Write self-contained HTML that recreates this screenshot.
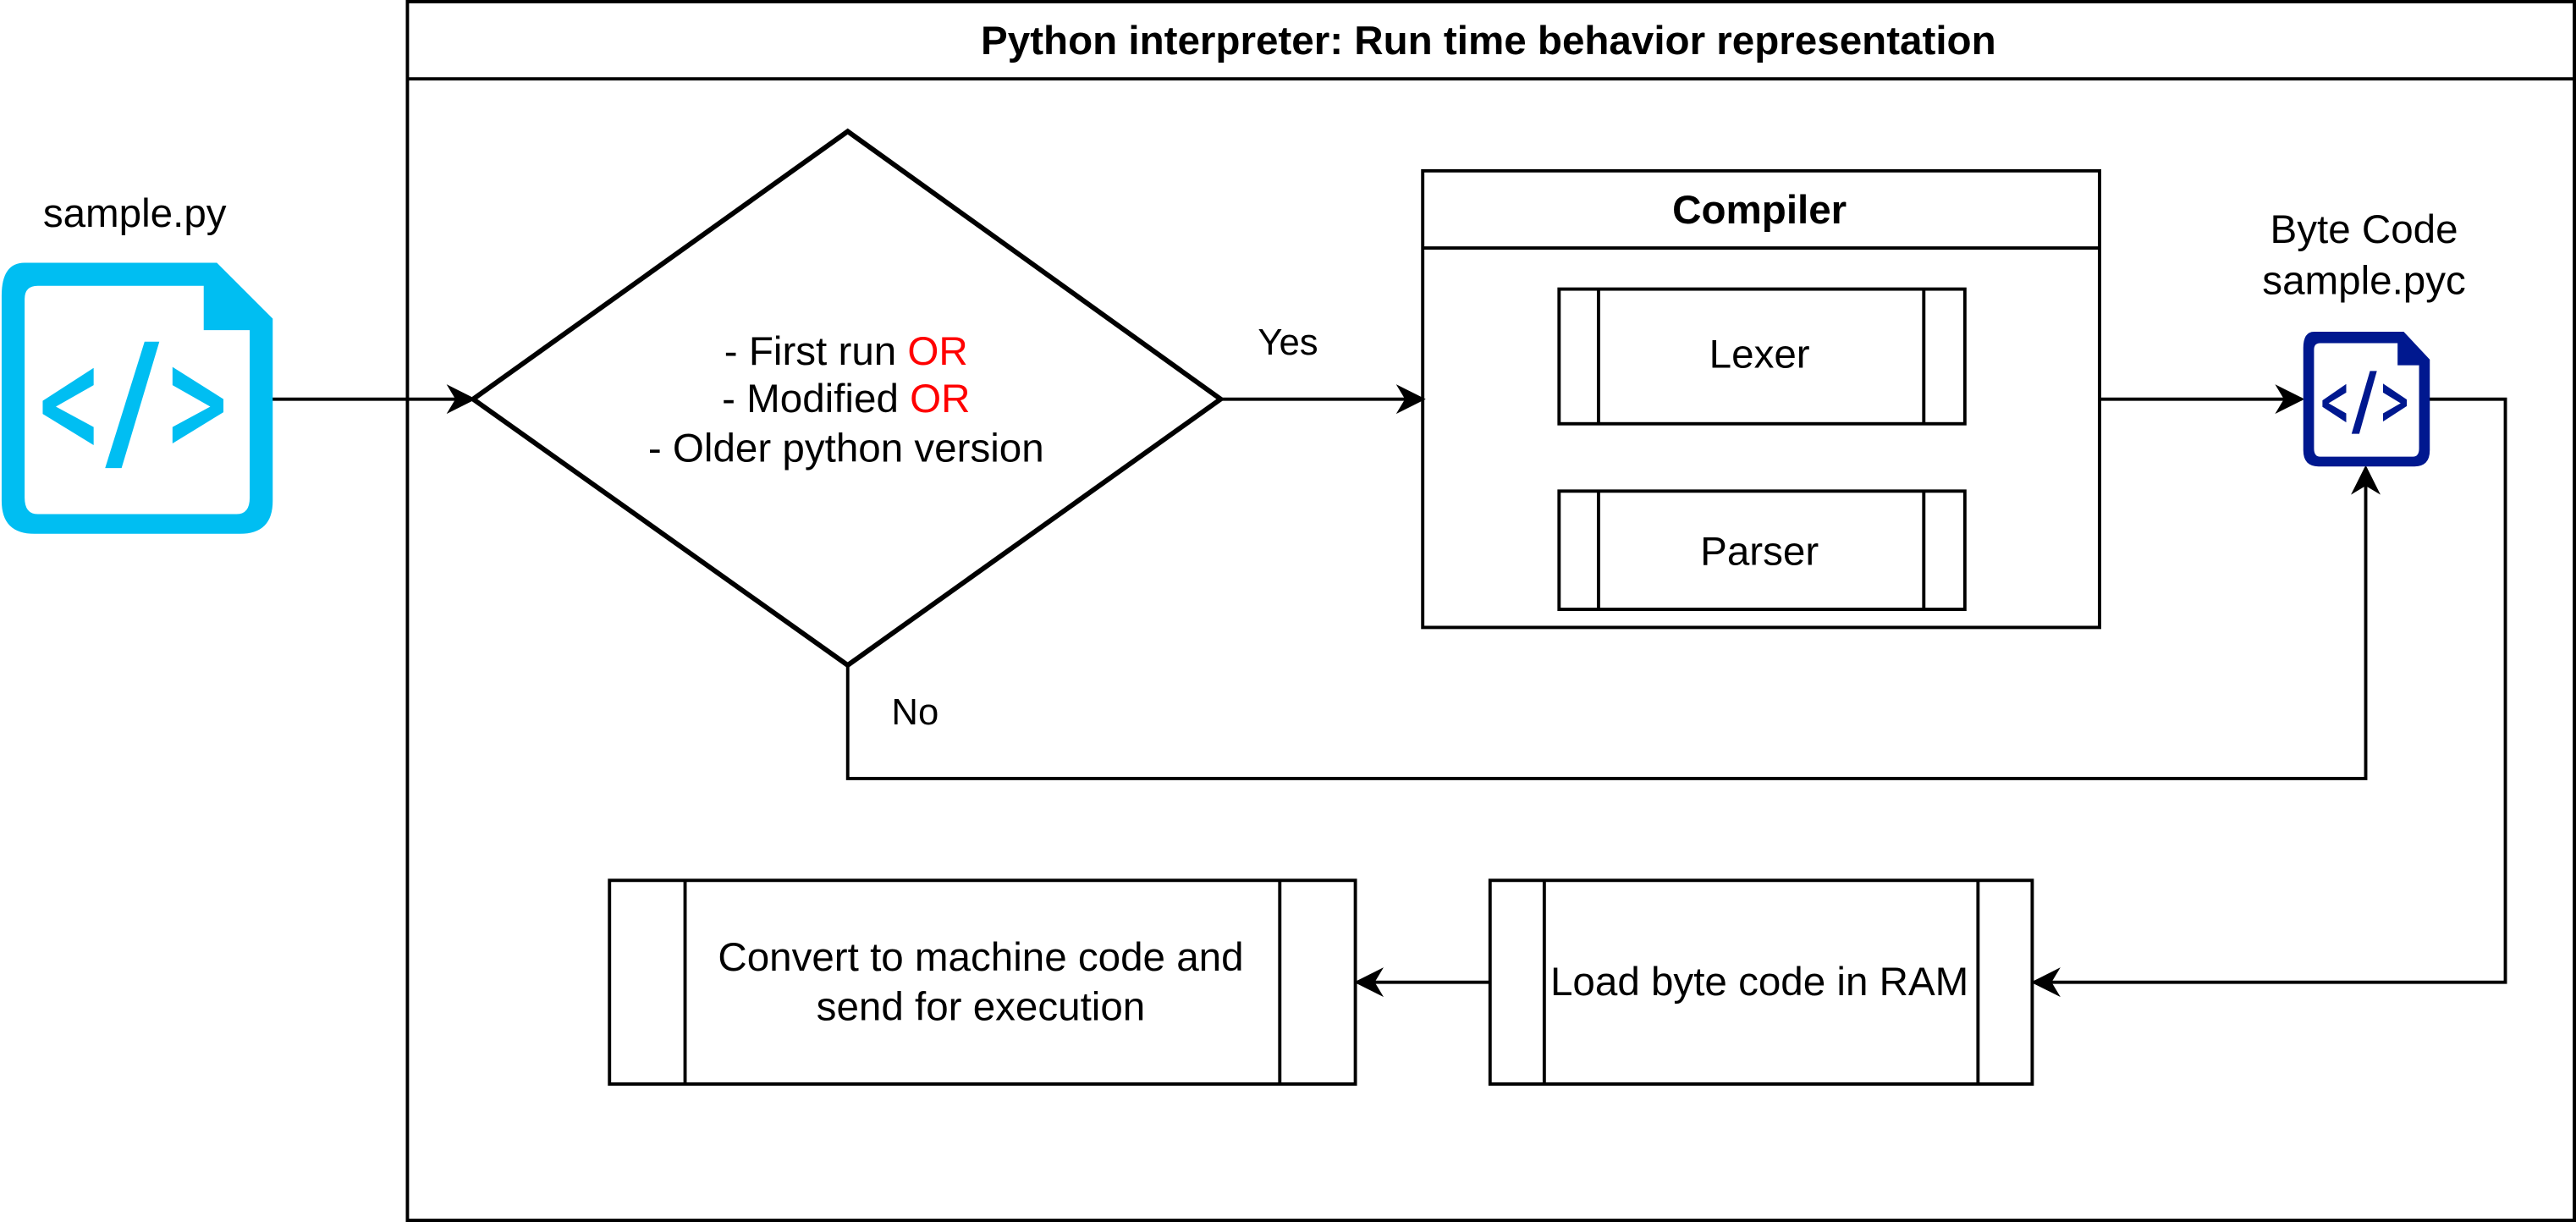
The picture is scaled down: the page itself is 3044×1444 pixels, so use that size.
<!DOCTYPE html>
<html><head><meta charset="utf-8"><style>html,body{margin:0;padding:0;background:#fff}svg{display:block}</style></head>
<body>
<svg width="3044" height="1444" viewBox="0 0 1568 744" preserveAspectRatio="none" xmlns="http://www.w3.org/2000/svg" font-family="Liberation Sans, sans-serif">
<defs>
<marker id="ah" viewBox="0 0 10 10" refX="9" refY="5" markerWidth="18" markerHeight="18" markerUnits="userSpaceOnUse" orient="auto">
<path d="M0,0 L10,5 L0,10 L3,5 z" fill="#000"/>
</marker>
<g id="icon">
<path d="M14,0 H131 L165,34 V145 Q165,165 145,165 H20 Q0,165 0,145 V20 Q0,0 14,0 z"/>
<path d="M22,14 H123 V41 H151 V143 Q151,153 143,153 H22 Q14,153 14,143 V22 Q14,14 22,14 z" fill="#fff"/>
<polygon points="25,84 56,64 56,74.5 33,87.6 56,100 56,111 25,92"/>
<polygon points="87,48 96,48 73,125 63,125"/>
<polygon points="104,63.4 135,83 135,91 104,110 104,100 127,87.6 104,74.5"/>
</g>
</defs>
<g fill="none" stroke="#000" stroke-width="2">
<rect x="248" y="1" width="1319" height="742"/>
<line x1="248" y1="48" x2="1567" y2="48"/>
<polygon points="288,243 516,80 743,243 516,405" stroke-width="3"/>
<rect x="866" y="104" width="412" height="278"/>
<line x1="866" y1="151" x2="1278" y2="151"/>
<rect x="949" y="176" width="247" height="82"/>
<line x1="973" y1="176" x2="973" y2="258"/><line x1="1171" y1="176" x2="1171" y2="258"/>
<rect x="949" y="299" width="247" height="72"/>
<line x1="973" y1="299" x2="973" y2="371"/><line x1="1171" y1="299" x2="1171" y2="371"/>
<rect x="907" y="536" width="330" height="124"/>
<line x1="940" y1="536" x2="940" y2="660"/><line x1="1204" y1="536" x2="1204" y2="660"/>
<rect x="371" y="536" width="454" height="124"/>
<line x1="417" y1="536" x2="417" y2="660"/><line x1="779" y1="536" x2="779" y2="660"/>
<line x1="165" y1="243" x2="288" y2="243" marker-end="url(#ah)"/>
<line x1="743" y1="243" x2="866" y2="243" marker-end="url(#ah)"/>
<line x1="1278" y1="243" x2="1401" y2="243" marker-end="url(#ah)"/>
<polyline points="1478,243 1525,243 1525,598 1238,598" marker-end="url(#ah)"/>
<polyline points="516,405 516,474 1440,474 1440,285" marker-end="url(#ah)"/>
<line x1="907" y1="598" x2="826" y2="598" marker-end="url(#ah)"/>
</g>
<use href="#icon" transform="translate(1,160)" fill="#00BEF2"/>
<use href="#icon" transform="translate(1402,202) scale(0.4667,0.497)" fill="#00188F"/>
<g font-size="24.5" text-anchor="middle" fill="#000">
<text x="906" y="33" font-weight="bold">Python interpreter: Run time behavior representation</text>
<text x="82" y="138">sample.py</text>
<text x="1439" y="148">Byte Code</text>
<text x="1439" y="179">sample.pyc</text>
<text x="515" y="222">- First run <tspan fill="#ff0000">OR</tspan></text>
<text x="515" y="251">- Modified <tspan fill="#ff0000">OR</tspan></text>
<text x="515" y="281">- Older python version</text>
<text x="1071" y="136" font-weight="bold">Compiler</text>
<text x="1071" y="224">Lexer</text>
<text x="1071" y="344">Parser</text>
<text x="1071" y="606">Load byte code in RAM</text>
<text x="597" y="591">Convert to machine code and</text>
<text x="597" y="621">send for execution</text>
<text x="784" y="216" font-size="22.5">Yes</text>
<text x="557" y="441" font-size="22.5">No</text>
</g>
</svg>
</body></html>
